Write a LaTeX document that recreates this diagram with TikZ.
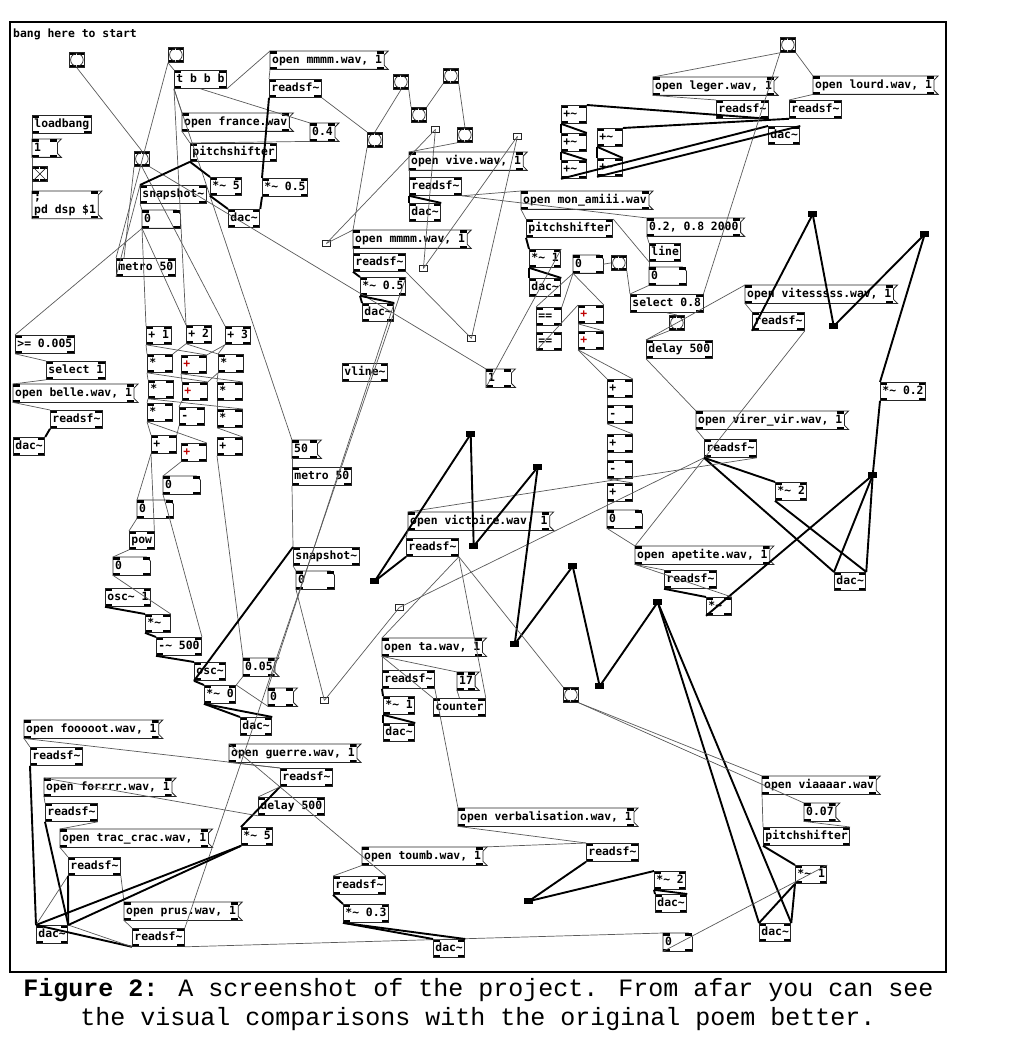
\documentclass[tikz,border=0pt]{standalone}
\usepackage{fontspec}
\newfontfamily\pdtext{DejaVu Sans Mono}
\newfontfamily\capfont{Liberation Mono}
\usetikzlibrary{calc}
\newcommand{\tld}{\textasciitilde}
\newcommand{\pdtabfill}{%
  \fill[black] (path picture bounding box.north west) rectangle ++(7pt,-2.5pt);
  \fill[black] (path picture bounding box.north east) rectangle ++(-7pt,-2.5pt);
  \fill[black] (path picture bounding box.south west) rectangle ++(7pt,2.5pt);
  \fill[black] (path picture bounding box.south east) rectangle ++(-7pt,2.5pt);}
\tikzset{
  boxline/.style={line width=0.8pt, draw=black!85},
  pdbase/.style={anchor=north west, inner xsep=2pt, inner ysep=3pt,
    text height=9pt, text depth=3pt,
    font=\pdtext\bfseries\fontsize{11.4pt}{13pt}\selectfont,
    path picture={\pdtabfill}},
  obj/.style={pdbase, boxline},
  short/.style={text width=21pt, align=left},
  redtxt/.style={text=red!75!black},
  msg/.style={pdbase, append after command={\pgfextra{%
    \draw[boxline] (\tikzlastnode.north west) -- ([xshift=4pt]\tikzlastnode.north east)
      -- ([yshift=-4pt]\tikzlastnode.north east) -- ([yshift=4pt]\tikzlastnode.south east)
      -- ([xshift=4pt]\tikzlastnode.south east) -- (\tikzlastnode.south west) -- cycle;}}},
  numbox/.style={pdbase, text width=#1, align=left, append after command={\pgfextra{%
    \draw[boxline] (\tikzlastnode.north west) -- ([xshift=-4pt]\tikzlastnode.north east)
      -- ([yshift=-4pt]\tikzlastnode.north east) -- (\tikzlastnode.south east)
      -- (\tikzlastnode.south west) -- cycle;}}},
  bng/.style={anchor=north west, boxline, minimum size=15pt, inner sep=0pt,
    path picture={\pdtabfill
      \draw[line width=0.7pt] (path picture bounding box.center) circle (6.3pt);}},
  tgl/.style={anchor=north west, boxline, minimum size=15pt, inner sep=0pt,
    path picture={\pdtabfill
      \draw[line width=0.7pt] (path picture bounding box.north west) -- (path picture bounding box.south east)
        (path picture bounding box.north east) -- (path picture bounding box.south west);}},
  tinybox/.style={anchor=north west, boxline, minimum width=8pt, minimum height=6pt, inner sep=0pt},
  blkbox/.style={anchor=north west, fill=black, minimum width=9pt, minimum height=6pt, inner sep=0pt},
  ctl/.style={draw=black!65, line width=0.7pt},
  sig/.style={draw=black, line width=1.9pt}
}
\begin{document}
\begin{tikzpicture}[x=1pt,y=-1pt]
\useasboundingbox (0,0) rectangle (1022,1048);
\draw[line width=1.5pt] (10,22) rectangle (946,972);
\node[pdbase, inner sep=0pt, path picture={}] (cmt) at (13,28) {bang here to start};

% top left: start and dsp
\node[bng] (bngA) at (69,52) {};
\node[bng] (bngB) at (168,47) {};
\node[obj] (tbbb) at (174,70) {t b b b};
\node[msg] (openMmm) at (270,51) {open mmmm.wav, 1};
\node[obj] (readA) at (269,79) {readsf\tld};
\node[obj] (loadb) at (32,115) {loadbang};
\node[msg, short] (msgOne) at (32,139) {1};
\node[tgl] (toggle) at (32,166) {};
\node[msg, align=left, text height={}, text depth={}] (msgDsp) at (32,191) {;\\pd dsp \$1};
\node[msg] (openFrance) at (182,113) {open france.wav};
\node[msg] (msgFour) at (310,123) {0.4};
\node[obj] (pitchA) at (190,143) {pitchshifter};
\node[bng] (bngC) at (134,151) {};
\node[obj] (mulFive) at (210,177) {*\tld{} 5};
\node[obj] (mulHalfA) at (262,178) {*\tld{} 0.5};
\node[obj] (snapA) at (140,185) {snapshot\tld};
\node[obj] (dacA) at (228,209) {dac\tld};
\node[numbox=34pt] (nbA) at (142,210) {0};
\node[obj] (metroA) at (116,258) {metro 50};
\node[obj] (geq) at (15,335) {>= 0.005};
\node[obj] (selOne) at (46,361) {select 1};
\node[msg] (openBelle) at (13,384) {open belle.wav, 1};
\node[obj] (readBelle) at (50,410) {readsf\tld};
\node[obj] (dacBelle) at (13,437) {dac\tld};

% counting grid
\node[obj] (p1) at (146,326) {+ 1};
\node[obj] (p2) at (186,325) {+ 2};
\node[obj] (p3) at (225,326) {+ 3};
\node[obj, short] (m11) at (147,354) {*};
\node[obj, short, redtxt] (a12) at (181,355) {+};
\node[obj, short] (m13) at (218,354) {*};
\node[obj, short] (m21) at (148,380) {*};
\node[obj, short, redtxt] (a22) at (182,382) {+};
\node[obj, short] (m23) at (217,382) {*};
\node[obj, short] (m31) at (147,403) {*};
\node[obj, short] (s32) at (179,407) {-};
\node[obj, short] (m33) at (217,409) {*};
\node[obj, short] (a41) at (151,435) {+};
\node[obj, short, redtxt] (a42) at (181,443) {+};
\node[obj, short] (a43) at (217,437) {+};
\node[numbox=33pt] (nbB) at (163,476) {0};
\node[numbox=32pt] (nbC) at (137,500) {0};
\node[obj] (powA) at (129,531) {pow};
\node[numbox=33pt] (nbD) at (113,557) {0};
\node[obj] (oscOne) at (105,588) {osc\tld{} 1};
\node[obj, short] (mulS) at (145,614) {*\tld};
\node[obj] (subFive) at (156,637) {-\tld{} 500};
\node[obj] (oscA) at (194,662) {osc\tld};
\node[msg] (msgZeroFive) at (243,658) {0.05};
\node[obj] (mulZero) at (204,685) {*\tld{} 0};
\node[msg, short] (msgZero) at (268,688) {0};
\node[obj] (dacOsc) at (240,717) {dac\tld};
\node[msg, short] (msgFifty) at (292,440) {50};
\node[obj] (metroB) at (292,467) {metro 50};
\node[obj] (snapB) at (293,547) {snapshot\tld};
\node[numbox=34pt] (nbE) at (296,571) {0};
\node[tinybox] (tiny4) at (320,697) {};

% middle top
\node[bng] (bngD) at (393,74) {};
\node[bng] (bngE) at (443,68) {};
\node[bng] (bngF) at (411,107) {};
\node[bng] (bngG) at (457,127) {};
\node[bng] (bngH) at (367,132) {};
\node[tinybox] (tiny2) at (431,126) {};
\node[tinybox] (tiny5) at (513,133) {};
\node[msg] (openVive) at (409,152) {open vive.wav, 1};
\node[obj] (readVive) at (409,177) {readsf\tld};
\node[obj] (dacVive) at (409,203) {dac\tld};
\node[obj, short] (plusA) at (561,105) {+\tld};
\node[obj, short] (plusB) at (561,133) {+\tld};
\node[obj, short] (plusC) at (561,160) {+\tld};
\node[obj, short] (plusD) at (597,128) {+\tld};
\node[obj, short] (plusE) at (597,158) {+\tld};
\node[msg] (openAmi) at (521,191) {open mon\_amiii.wav};
\node[obj] (pitchB) at (526,219) {pitchshifter};
\node[msg] (openMmmB) at (353,230) {open mmmm.wav, 1};
\node[tinybox] (tiny1) at (322,240) {};
\node[obj] (readB) at (353,253) {readsf\tld};
\node[obj] (mulOneB) at (529,249) {*\tld{} 1};
\node[numbox=26pt] (nbF) at (573,255) {0};
\node[bng] (bngI) at (611,255) {};
\node[tinybox] (tiny3) at (419,265) {};
\node[obj] (mulHalfB) at (360,277) {*\tld{} 0.5};
\node[obj] (dacB) at (362,303) {dac\tld};
\node[obj] (dacAmi) at (529,278) {dac\tld};
\node[obj, short] (eqA) at (536,307) {==};
\node[obj, short] (eqB) at (536,332) {==};
\node[obj, short, redtxt] (addA) at (578,305) {+};
\node[obj, short, redtxt] (addB) at (578,331) {+};
\node[tinybox] (tiny6) at (467,335) {};
\node[obj] (vline) at (342,363) {vline\tld};
\node[msg, short] (msgOneB) at (486,369) {1};
\node[obj, short] (q1) at (607,379) {+};
\node[obj, short] (q2) at (607,405) {-};
\node[obj, short] (q3) at (607,434) {+};
\node[obj, short] (q4) at (607,460) {-};
\node[obj, short] (q5) at (607,483) {+};
\node[numbox=31pt] (nbG) at (607,510) {0};

% top right
\node[bng] (bngJ) at (780,37) {};
\node[msg] (openLeger) at (653,77) {open leger.wav, 1};
\node[msg] (openLourd) at (813,76) {open lourd.wav, 1};
\node[obj] (readLeger) at (716,100) {readsf\tld};
\node[obj] (readLourd) at (789,100) {readsf\tld};
\node[obj] (dacLL) at (768,126) {dac\tld};
\node[msg] (msgLine) at (647,218) {0.2, 0.8 2000};
\node[obj] (lineA) at (649,243) {line};
\node[numbox=33pt] (nbH) at (649,267) {0};
\node[obj] (selB) at (630,294) {select 0.8};
\node[bng] (bngK) at (669,315) {};
\node[obj] (delayA) at (646,340) {delay 500};
\node[msg] (openVit) at (745,285) {open vitesssss.wav, 1};
\node[obj] (readVit) at (752,312) {readsf\tld};
\node[obj] (mulPtTwo) at (880,382) {*\tld{} 0.2};
\node[msg] (openVirer) at (696,411) {open virer\_vir.wav, 1};
\node[obj] (readVirer) at (704,439) {readsf\tld};
\node[obj] (mulTwoA) at (775,482) {*\tld{} 2};
\node[blkbox] (blk1) at (808,211) {};
\node[blkbox] (blk2) at (829,323) {};
\node[blkbox] (blk3) at (920,231) {};
\node[blkbox] (blk4) at (868,472) {};

% middle
\node[blkbox] (blk5) at (466,431) {};
\node[blkbox] (blk6) at (533,464) {};
\node[blkbox] (blk7) at (370,578) {};
\node[blkbox] (blk8) at (469,543) {};
\node[blkbox] (blk9) at (510,641) {};
\node[blkbox] (blk10) at (568,563) {};
\node[blkbox] (blk11) at (595,683) {};
\node[blkbox] (blk12) at (653,599) {};
\node[msg] (openVict) at (408,512) {open victoire.wav, 1};
\node[obj] (readVict) at (406,538) {readsf\tld};
\node[tinybox] (tiny7) at (395,604) {};
\node[msg] (openTa) at (382,638) {open ta.wav, 1};
\node[obj] (readTa) at (382,670) {readsf\tld};
\node[msg] (msgSeventeen) at (457,672) {17};
\node[obj] (mulOneC) at (383,696) {*\tld{} 1};
\node[obj] (counter) at (433,698) {counter};
\node[obj] (dacTa) at (383,723) {dac\tld};
\node[bng] (bngL) at (563,687) {};
\node[msg] (openApe) at (635,546) {open apetite.wav, 1};
\node[obj] (readApe) at (664,570) {readsf\tld};
\node[obj, short] (mulApe) at (706,597) {*\tld};
\node[obj] (dacVir) at (834,572) {dac\tld};

% bottom
\node[msg] (openFoot) at (24,720) {open fooooot.wav, 1};
\node[obj] (readFoot) at (30,747) {readsf\tld};
\node[msg] (openGuerre) at (229,744) {open guerre.wav, 1};
\node[obj] (readGuerre) at (280,768) {readsf\tld};
\node[msg] (openForr) at (44,778) {open forrrr.wav, 1};
\node[obj] (delayB) at (258,797) {delay 500};
\node[obj] (readForr) at (45,803) {readsf\tld};
\node[msg] (openTrac) at (60,829) {open trac\_crac.wav, 1};
\node[obj] (mulFiveB) at (241,827) {*\tld{} 5};
\node[obj] (readTrac) at (68,857) {readsf\tld};
\node[msg] (openPrus) at (124,902) {open prus.wav, 1};
\node[obj] (dacFoot) at (36,925) {dac\tld};
\node[obj] (readPrus) at (132,928) {readsf\tld};
\node[msg] (openVerb) at (458,808) {open verbalisation.wav, 1};
\node[obj] (readVerb) at (586,843) {readsf\tld};
\node[msg] (openToumb) at (362,847) {open toumb.wav, 1};
\node[obj] (readToumb) at (333,876) {readsf\tld};
\node[obj] (mulPtThree) at (343,904) {*\tld{} 0.3};
\node[obj] (dacToumb) at (433,939) {dac\tld};
\node[blkbox] (blk13) at (524,898) {};
\node[obj] (mulTwoB) at (654,871) {*\tld{} 2};
\node[obj] (dacVerb) at (655,894) {dac\tld};
\node[msg] (openViaar) at (762,776) {open viaaaar.wav};
\node[msg] (msgZeroSeven) at (804,803) {0.07};
\node[obj] (pitchC) at (763,827) {pitchshifter};
\node[obj] (mulOneD) at (795,865) {*\tld{} 1};
\node[obj] (dacViaar) at (759,923) {dac\tld};
\node[numbox=25pt] (nbI) at (663,933) {0};

% wires: top left
\draw[ctl] (loadb.south west) -- (msgOne.north west);
\draw[ctl] (msgOne.south west) -- (toggle.north west);
\draw[ctl] (toggle.south west) -- (msgDsp.north west);
\draw[ctl] (bngA.south) -- (bngC.north);
\draw[ctl] (bngB.south west) -- (tbbb.north west);
\draw[ctl] (bngB.south west) -- (metroA.north west);
\draw[ctl] (bngC.south west) -- ([xshift=8pt]metroA.north west);
\draw[ctl] (bngC.south east) -- (msgOneB.north west);
\draw[ctl] (bngC.south) -- (p3.north west);
\draw[ctl] (tbbb.south west) -- (openFrance.north west);
\draw[ctl] (tbbb.south) -- (msgFour.north west);
\draw[ctl] (tbbb.south east) -- (openMmm.north west);
\draw[ctl] (tbbb.south west) -- (p2.north west);
\draw[ctl] (tbbb.south west) -- (msgFifty.north west);
\draw[ctl] (openMmm.south west) -- (readA.north west);
\draw[sig] (readA.south west) -- (mulHalfA.north west);
\draw[ctl] (readA.south east) -- (bngH.north west);
\draw[ctl] (openFrance.south west) -- (pitchA.north west);
\draw[ctl] (msgFour.south west) -- (pitchA.north west);
\draw[sig] (pitchA.south west) -- (snapA.north west);
\draw[sig] (pitchA.south west) -- (mulFive.north west);
\draw[sig] (mulFive.south west) -- (dacA.north west);
\draw[sig] (mulHalfA.south west) -- (dacA.north east);
\draw[ctl] (snapA.south west) -- (nbA.north west);
\draw[ctl] (nbA.south west) -- (geq.north west);
\draw[ctl] (nbA.south west) -- (p1.north west);
\draw[ctl] (nbA.south west) -- (p2.north west);
\draw[ctl] (metroA.south west) -- (snapA.north west);
\draw[ctl] (geq.south west) -- (selOne.north west);
\draw[ctl] (selOne.south west) -- (openBelle.north west);
\draw[ctl] (openBelle.south west) -- (readBelle.north west);
\draw[sig] (readBelle.south west) -- (dacBelle.north east);

% wires: counting grid
\draw[ctl] (p1.south west) -- (m11.north west);
\draw[ctl] (p1.south west) -- (a12.north east);
\draw[ctl] (p2.south west) -- (m11.north east);
\draw[ctl] (p2.south west) -- (m13.north west);
\draw[ctl] (p3.south west) -- (m13.north west);
\draw[ctl] (p3.south west) -- (a12.north east);
\draw[ctl] (m11.south west) -- (m21.north west);
\draw[ctl] (m11.south west) -- (a22.north east);
\draw[ctl] (a12.south west) -- (a22.north west);
\draw[ctl] (a12.south west) -- (m23.north east);
\draw[ctl] (m13.south west) -- (m23.north west);
\draw[ctl] (m13.south west) -- (a22.north east);
\draw[ctl] (m21.south west) -- (m31.north west);
\draw[ctl] (m21.south west) -- (m33.north east);
\draw[ctl] (a22.south west) -- (s32.north west);
\draw[ctl] (m23.south west) -- (m33.north west);
\draw[ctl] (m31.south west) -- (a41.north west);
\draw[ctl] (m31.south west) -- (a42.north east);
\draw[ctl] (s32.south west) -- (a41.north east);
\draw[ctl] (m33.south west) -- (a43.north east);
\draw[ctl] (a41.south west) -- (nbC.north west);
\draw[ctl] (a42.south west) -- (nbB.north west);
\draw[ctl] (a41.south west) -- (powA.north east);
\draw[ctl] (a43.south west) -- (msgZeroFive.north west);
\draw[ctl] (nbB.south west) -- (subFive.north east);
\draw[ctl] (nbC.south west) -- (powA.north west);
\draw[ctl] (powA.south west) -- (nbD.north west);
\draw[ctl] (nbD.south west) -- (mulS.north east);
\draw[sig] (oscOne.south west) -- (mulS.north west);
\draw[sig] (mulS.south west) -- (subFive.north west);
\draw[sig] (subFive.south west) -- (oscA.north west);
\draw[sig] (oscA.south west) -- (mulZero.north west);
\draw[sig] (oscA.south west) -- (snapB.north west);
\draw[ctl] (msgZeroFive.south west) -- (mulZero.north east);
\draw[ctl] (msgZero.south west) -- (mulZero.north east);
\draw[sig] (mulZero.south west) -- (dacOsc.north west);
\draw[sig] (mulZero.south west) -- (dacOsc.north east);
\draw[ctl] (msgFifty.south west) -- (metroB.north west);
\draw[ctl] (metroB.south west) -- (snapB.north west);
\draw[ctl] (snapB.south west) -- (nbE.north west);
\draw[ctl] (nbE.south west) -- (tiny4.center);
\draw[ctl] (tiny4.center) -- (tiny7.center);
\draw[ctl] (mulHalfB.north east) -- (readPrus.north east);
\draw[ctl] (dacB.north east) -- (msgZero.north west);

% wires: middle top
\draw[ctl] (bngD.south) -- (bngH.north);
\draw[ctl] (bngD.south east) -- (bngF.north west);
\draw[ctl] (bngE.south west) -- (bngF.north east);
\draw[ctl] (bngE.south east) -- (bngG.north);
\draw[ctl] (bngH.south west) -- (openMmmB.north west);
\draw[ctl] (bngG.south west) -- (openVive.north west);
\draw[ctl] (tiny2.center) -- (tiny1.center);
\draw[ctl] (tiny2.center) -- (tiny3.center);
\draw[ctl] (tiny5.center) -- (tiny3.center);
\draw[ctl] (tiny5.center) -- (tiny6.center);
\draw[ctl] (tiny1.center) -- (openMmmB.north west);
\draw[ctl] (readB.south east) -- (tiny6.center);
\draw[ctl] (openMmmB.south west) -- (readB.north west);
\draw[sig] (readB.south west) -- (mulHalfB.north west);
\draw[sig] (mulHalfB.south west) -- (dacB.north west);
\draw[sig] (mulHalfB.south west) -- (dacB.north east);
\draw[ctl] (openVive.south west) -- (readVive.north west);
\draw[sig] (readVive.south west) -- (dacVive.north west);
\draw[sig] (readVive.south west) -- (dacVive.north east);
\draw[ctl] (readVive.south east) -- (openAmi.north west);
\draw[ctl] (readVive.south east) -- (msgLine.north west);
\draw[ctl] (openAmi.south west) -- (pitchB.north west);
\draw[sig] (pitchB.south west) -- (mulOneB.north west);
\draw[sig] (mulOneB.south west) -- (dacAmi.north west);
\draw[sig] (mulOneB.south west) -- (dacAmi.north east);
\draw[ctl] (msgOneB.south west) -- (mulOneB.north east);
\draw[ctl] (lineA.south west) -- (pitchB.north east);
\draw[ctl] (nbF.east) -- (bngI.west);
\draw[ctl] (bngI.south east) -- (selB.north west);
\draw[ctl] (nbF.south west) -- (eqA.north west);
\draw[ctl] (nbF.south west) -- (eqA.north east);
\draw[ctl] (nbF.south west) -- (addA.north east);
\draw[ctl] (eqA.south west) -- (eqB.north west);
\draw[ctl] (eqB.south west) -- (addA.north west);
\draw[ctl] (addA.south west) -- (addB.north west);
\draw[ctl] (addA.south west) -- (addB.north east);
\draw[ctl] (addB.south west) -- (q1.north west);
\draw[ctl] (addB.south west) -- (q1.north east);
\draw[ctl] (q1.south west) -- (q2.north west);
\draw[ctl] (q2.south west) -- (q3.north east);
\draw[ctl] (q3.south west) -- (q4.north west);
\draw[ctl] (q4.south west) -- (q5.north east);
\draw[ctl] (q5.south west) -- (nbG.north west);
\draw[ctl] (nbG.south west) -- (openApe.north west);
\draw[sig] (plusA.south west) -- (plusB.north west);
\draw[sig] (plusA.south west) -- (plusB.north east);
\draw[sig] (plusB.south west) -- (plusC.north west);
\draw[sig] (plusB.south west) -- (plusC.north east);
\draw[sig] (plusD.south west) -- (plusE.north west);
\draw[sig] (plusD.south west) -- (plusE.north east);
\draw[sig] (readLeger.south east) -- (plusA.north east);
\draw[sig] (readLourd.south west) -- (plusD.north east);
\draw[sig] (plusC.south west) -- (dacLL.north west);
\draw[sig] (plusE.south west) -- (dacLL.north east);

% wires: top right
\draw[ctl] (bngJ.south west) -- (openLeger.north west);
\draw[ctl] (bngJ.south east) -- (openLourd.north west);
\draw[ctl] (bngJ.south west) -- (selB.north east);
\draw[ctl] (openLeger.south west) -- (readLeger.north west);
\draw[ctl] (openLourd.south west) -- (readLourd.north west);
\draw[ctl] (msgLine.south west) -- (lineA.north west);
\draw[ctl] (lineA.south west) -- (nbH.north west);
\draw[ctl] (nbH.south west) -- (selB.north west);
\draw[ctl] (selB.south) -- (bngK.north);
\draw[ctl] (bngK.south west) -- (delayA.north west);
\draw[ctl] (delayA.south west) -- (openVirer.north west);
\draw[ctl] (delayA.north west) -- (openVit.north west);
\draw[ctl] (openVit.south west) -- (readVit.north west);
\draw[ctl] (readVit.south east) -- (openApe.north west);
\draw[sig] (blk1.center) -- (readVit.south west);
\draw[sig] (blk1.center) -- (blk2.center);
\draw[sig] (blk3.center) -- (blk2.center);
\draw[sig] (blk3.center) -- (mulPtTwo.north west);
\draw[sig] (mulPtTwo.south west) -- (blk4.center);
\draw[sig] (blk4.center) -- (dacVir.north west);
\draw[sig] (blk4.center) -- (dacVir.north east);
\draw[sig] (mulApe.south west) -- (blk4.center);
\draw[ctl] (openVirer.south west) -- (readVirer.north west);
\draw[sig] (readVirer.south west) -- (mulTwoA.north west);
\draw[sig] (readVirer.south west) -- (dacVir.north west);
\draw[sig] (mulTwoA.south west) -- (dacVir.north east);
\draw[ctl] (readVirer.south east) -- (openVict.north west);
\draw[ctl] (readVirer.south west) -- (tiny7.center);
\draw[ctl] (openApe.south west) -- (readApe.north west);
\draw[ctl] (openApe.south west) -- (mulApe.north east);
\draw[sig] (readApe.south west) -- (mulApe.north west);

% wires: middle zigzag
\draw[sig] (blk5.center) -- (blk7.center);
\draw[sig] (blk5.center) -- (blk8.center);
\draw[sig] (blk8.center) -- (blk6.center);
\draw[sig] (blk6.center) -- (blk9.center);
\draw[sig] (blk9.center) -- (blk10.center);
\draw[sig] (blk10.center) -- (blk11.center);
\draw[sig] (blk11.center) -- (blk12.center);
\draw[sig] (blk12.center) -- (dacViaar.north west);
\draw[sig] (blk12.center) -- (dacViaar.north east);
\draw[ctl] (openVict.south west) -- (readVict.north west);
\draw[sig] (readVict.south west) -- (blk7.center);
\draw[ctl] (readVict.south east) -- (openTa.north west);
\draw[ctl] (readVict.south east) -- (counter.north east);
\draw[ctl] (readVict.south east) -- (bngL.north west);
\draw[ctl] (openTa.south west) -- (readTa.north west);
\draw[ctl] (openTa.south west) -- (msgSeventeen.north west);
\draw[ctl] (openTa.south west) -- (counter.north west);
\draw[ctl] (msgSeventeen.south west) -- (counter.north);
\draw[ctl] (readTa.south east) -- (openVerb.north west);
\draw[sig] (readTa.south west) -- (mulOneC.north west);
\draw[sig] (mulOneC.south west) -- (dacTa.north west);
\draw[sig] (mulOneC.south west) -- (dacTa.north east);
\draw[ctl] (bngL.south east) -- (openViaar.north west);
\draw[ctl] (bngL.south east) -- (msgZeroSeven.north west);
\draw[ctl] (openViaar.south west) -- (pitchC.north west);
\draw[ctl] (msgZeroSeven.south west) -- (pitchC.north east);
\draw[sig] (pitchC.south west) -- (mulOneD.north west);
\draw[sig] (mulOneD.south west) -- (dacViaar.north west);
\draw[sig] (mulOneD.south west) -- (dacViaar.north east);
\draw[ctl] (nbI.south west) -- (mulOneD.north east);
\draw[ctl] (readPrus.south east) -- (nbI.north west);

% wires: bottom
\draw[ctl] (openFoot.south west) -- (readFoot.north west);
\draw[ctl] (openFoot.south west) -- (readGuerre.north west);
\draw[sig] (readFoot.south west) -- (dacFoot.north west);
\draw[ctl] (openGuerre.south west) -- (readGuerre.north west);
\draw[ctl] (openGuerre.north west) -- (readToumb.north east);
\draw[sig] (readGuerre.south west) -- (mulFiveB.north west);
\draw[ctl] (readGuerre.south west) -- (delayB.north west);
\draw[ctl] (delayB.south west) -- (openForr.north west);
\draw[ctl] (openForr.south west) -- (readForr.north west);
\draw[sig] (readForr.south west) -- (dacFoot.north east);
\draw[ctl] (readForr.south east) -- (openTrac.north west);
\draw[ctl] (openTrac.south west) -- (readTrac.north west);
\draw[ctl] (readTrac.south west) -- (dacFoot.north west);
\draw[sig] (readTrac.south west) -- (dacFoot.north east);
\draw[ctl] (readTrac.south east) -- (openPrus.north west);
\draw[ctl] (openPrus.south west) -- (readPrus.north west);
\draw[sig] (readPrus.south west) -- (dacFoot.north west);
\draw[ctl] (readPrus.south west) -- (dacFoot.north east);
\draw[sig] (mulFiveB.south west) -- (dacFoot.north west);
\draw[sig] (mulFiveB.south west) -- (dacFoot.north east);
\draw[ctl] (openVerb.south west) -- (readVerb.north west);
\draw[ctl] (readVerb.north west) -- (openToumb.north east);
\draw[ctl] (openToumb.south west) -- (readToumb.north west);
\draw[sig] (readToumb.south west) -- (mulPtThree.north west);
\draw[sig] (mulPtThree.south west) -- (dacToumb.north west);
\draw[sig] (mulPtThree.south west) -- (dacToumb.north east);
\draw[sig] (readVerb.south west) -- (blk13.center);
\draw[sig] (blk13.center) -- (mulTwoB.north west);
\draw[sig] (mulTwoB.south west) -- (dacVerb.north west);
\draw[sig] (mulTwoB.south west) -- (dacVerb.north east);

% caption
\node[anchor=base, font=\capfont\fontsize{25pt}{29pt}\selectfont] (capA) at (478.5,996)
  {\textbf{Figure 2:} A screenshot of the project. From afar you can see};
\node[anchor=base, font=\capfont\fontsize{25pt}{29pt}\selectfont] (capB) at (478,1025)
  {the visual comparisons with the original poem better.};
\end{tikzpicture}
\end{document}
